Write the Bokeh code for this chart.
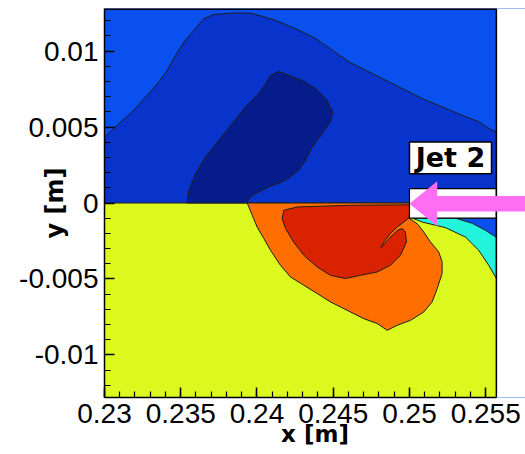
from bokeh.plotting import figure
from bokeh.models import Range1d, FixedTicker, Label
from bokeh.embed import file_html
from bokeh.resources import INLINE

# ---- domain and axes -------------------------------------------------------
x_limits = [0.23, 0.2557]        # computational domain shown
y_limits = [-0.0128, 0.0128]
x_view_end = 0.25761             # view runs a little past the domain for the inflow arrow

x_ticks = [0.23, 0.235, 0.24, 0.245, 0.25, 0.255]
x_tick_labels = ["0.23", "0.235", "0.24", "0.245", "0.25", "0.255"]
y_ticks = [-0.01, -0.005, 0.0, 0.005, 0.01]
y_tick_labels = ["-0.01", "-0.005", "0", "0.005", "0.01"]
x_minor = [round(0.230 + 0.001 * i, 3) for i in range(26)]
y_minor = [round(-0.012 + 0.001 * i, 3) for i in range(25)]

# ---- contour bands (polygon outlines in metres) ----------------------------
# upper half (y > 0): second band, below the outer contour line
band2_x = [0.23, 0.23083, 0.23192, 0.23280, 0.23356, 0.23411, 0.23466, 0.23520,
           0.23586, 0.23651, 0.23717, 0.23848, 0.23957, 0.24036, 0.24123, 0.24254,
           0.24386, 0.24495, 0.24605, 0.24736, 0.24867, 0.24976, 0.25107, 0.25216,
           0.25348, 0.25457, 0.25523, 0.2557, 0.2557, 0.23]
band2_y = [0.00434, 0.00511, 0.00610, 0.00709, 0.00796, 0.00873, 0.00972, 0.01059,
           0.01136, 0.01213, 0.01241, 0.01250, 0.01250, 0.01228, 0.01202, 0.01147,
           0.01082, 0.01005, 0.00928, 0.00862, 0.00796, 0.00741, 0.00676, 0.00632,
           0.00577, 0.00533, 0.00489, 0.00467, 0.0, 0.0]

# upper half: innermost (darkest) band
band3_x = [0.23542, 0.23553, 0.23597, 0.23662, 0.23750, 0.23837, 0.23925, 0.24012,
           0.24056, 0.24089, 0.24143, 0.24209, 0.24296, 0.24384, 0.24460, 0.24497,
           0.24482, 0.24428, 0.24362, 0.24318, 0.24274, 0.24187, 0.24077, 0.23990,
           0.23946, 0.23936]
band3_y = [0.0, 0.00084, 0.00193, 0.00303, 0.00413, 0.00522, 0.00632, 0.00720,
           0.00786, 0.00840, 0.00866, 0.00840, 0.00807, 0.00753, 0.00676, 0.00599,
           0.00533, 0.00457, 0.00368, 0.00281, 0.00215, 0.00149, 0.00105, 0.00062,
           0.00029, 0.0]

# lower half (y < 0): orange band
orange_x = [0.23936, 0.23969, 0.24001, 0.24045, 0.24089, 0.24154, 0.24220, 0.24307,
            0.24395, 0.24482, 0.24591, 0.24700, 0.24788, 0.24854, 0.24919, 0.25007,
            0.25094, 0.25149, 0.25182, 0.25214, 0.25214, 0.25192, 0.25138, 0.25094,
            0.25051, 0.25, 0.25]
orange_y = [0.0, -0.00081, -0.00158, -0.00234, -0.00311, -0.00410, -0.00487, -0.00541,
            -0.00596, -0.00651, -0.00706, -0.00761, -0.00793, -0.00838, -0.00805, -0.00772,
            -0.00717, -0.00651, -0.00563, -0.00464, -0.00388, -0.00322, -0.00257, -0.00191,
            -0.00136, -0.00103, 0.0]

# lower half: red core with the slit near the jet
red_x = [0.24176, 0.24165, 0.24187, 0.24241, 0.24307, 0.24395, 0.24482, 0.24580,
         0.24679, 0.24788, 0.24875, 0.24941, 0.24980, 0.24974, 0.24952, 0.24919,
         0.24875, 0.24814, 0.24832, 0.24875, 0.24919, 0.24963, 0.25, 0.25,
         0.24613, 0.24264]
red_y = [-0.00048, -0.00103, -0.00168, -0.00257, -0.00344, -0.00421, -0.00476, -0.00497,
         -0.00476, -0.00454, -0.00410, -0.00344, -0.00257, -0.00191, -0.00168, -0.00182,
         -0.00224, -0.00293, -0.00257, -0.00201, -0.00158, -0.00125, -0.00095, -0.00012,
         -0.00015, -0.00026]

# lower half: cyan band downstream of the jet
cyan_x = [0.25083, 0.25020, 0.2557, 0.2557, 0.25520, 0.25454, 0.25367, 0.25236]
cyan_y = [-0.00125, -0.00100, -0.00100, -0.00497, -0.00410, -0.00311, -0.00224, -0.00162]

# lower half: thin blue wedge under the jet exit
wedge_x = [0.25302, 0.2557, 0.2557, 0.25498, 0.25413]
wedge_y = [-0.00100, -0.00100, -0.00226, -0.00180, -0.00134]

# jet inlet
jet_left, jet_right = 0.25, 0.2557
jet_bottom, jet_top = -0.0010, 0.00095

# "Jet 2" tag box and inflow arrow outline
tag_box = dict(left=0.25, right=0.25538, bottom=0.00193, top=0.00401)
tag_text_xy = (0.25269, 0.00297)
arrow_x = [0.25, 0.25182, 0.25182, 0.25761, 0.25761, 0.25182, 0.25182]
arrow_y = [-0.00005, 0.00143, 0.00046, 0.00046, -0.00056, -0.00056, -0.00153]

# ---- colours ---------------------------------------------------------------
C_BAND1 = "#0a50ee"
C_BAND2 = "#0934cc"
C_BAND3 = "#061c8a"
C_YELLOW = "#dbf81f"
C_ORANGE = "#ff6e00"
C_RED = "#d82200"
C_CYAN = "#22f5dc"
C_EDGE = "#1e1e1e"
C_PINK = "#ff6ef2"

TICK_FONT = "Liberation Sans"
LABEL_FONT = "DejaVu Sans"

p = figure(width=525, height=454,
           x_range=Range1d(x_limits[0], x_view_end), y_range=Range1d(*y_limits),
           output_backend="svg", toolbar_location=None,
           min_border_left=104, min_border_right=0,
           min_border_top=8, min_border_bottom=57)

p.background_fill_color = C_BAND1
p.border_fill_color = "white"
p.grid.visible = False
p.outline_line_color = None

# lower half base level
p.patch([x_limits[0], x_limits[1], x_limits[1], x_limits[0]],
        [0.0, 0.0, y_limits[0], y_limits[0]],
        fill_color=C_YELLOW, line_color=None)

edge = dict(line_color=C_EDGE, line_width=1)
p.patch(band2_x, band2_y, fill_color=C_BAND2, **edge)
p.patch(band3_x, band3_y, fill_color=C_BAND3, **edge)
p.patch(orange_x, orange_y, fill_color=C_ORANGE, **edge)
p.patch(red_x, red_y, fill_color=C_RED, **edge)
p.patch(cyan_x, cyan_y, fill_color=C_CYAN, **edge)
p.patch(wedge_x, wedge_y, fill_color=C_BAND1, **edge)

# jet opening
p.quad(left=[jet_left], right=[jet_right], bottom=[jet_bottom], top=[jet_top],
       fill_color="white", line_color="black", line_width=1.2)

# blank strip right of the domain, then the domain's top and right border
p.quad(left=[x_limits[1]], right=[x_view_end], bottom=[y_limits[0]], top=[y_limits[1]],
       fill_color="white", line_color=None)
p.segment(x0=[x_limits[1], x_limits[0]], y0=[y_limits[0], y_limits[1]],
          x1=[x_limits[1], x_limits[1]], y1=[y_limits[1], y_limits[1]],
          line_color="black", line_width=[1.5, 3])

# "Jet 2" tag
p.quad(left=[tag_box["left"]], right=[tag_box["right"]],
       bottom=[tag_box["bottom"]], top=[tag_box["top"]],
       fill_color="white", line_color="black", line_width=1.5)
p.add_layout(Label(x=tag_text_xy[0], y=tag_text_xy[1], text="Jet 2",
                   text_font=LABEL_FONT, text_font_style="bold", text_font_size="27px",
                   text_align="center", text_baseline="middle", text_color="black"))

# inflow arrow pointing at the jet
p.patch(arrow_x, arrow_y, fill_color=C_PINK, line_color=None)

# axes
p.xaxis.ticker = FixedTicker(ticks=x_ticks, minor_ticks=x_minor)
p.yaxis.ticker = FixedTicker(ticks=y_ticks, minor_ticks=y_minor)
p.xaxis.bounds = (x_limits[0], x_limits[1])
p.xaxis.major_label_overrides = dict(zip(x_ticks, x_tick_labels))
p.yaxis.major_label_overrides = dict(zip(y_ticks, y_tick_labels))
p.xaxis.axis_label = "x [m]"
p.yaxis.axis_label = "y [m]"

for ax in (p.xaxis[0], p.yaxis[0]):
    ax.axis_line_color = "black"
    ax.axis_line_width = 1.5
    ax.major_tick_in = 10
    ax.major_tick_out = 0
    ax.minor_tick_in = 6
    ax.minor_tick_out = 0
    ax.major_tick_line_color = "black"
    ax.major_tick_line_width = 1.5
    ax.minor_tick_line_color = "black"
    ax.minor_tick_line_width = 1.2
    ax.major_label_text_font = TICK_FONT
    ax.major_label_text_font_size = "28px"
    ax.major_label_text_color = "black"
    ax.axis_label_text_font = LABEL_FONT
    ax.axis_label_text_font_style = "bold"
    ax.axis_label_text_color = "black"

p.xaxis.axis_label_text_font_size = "23px"
p.yaxis.axis_label_text_font_size = "24px"

p.xaxis.major_label_standoff = 6
p.xaxis.axis_label_standoff = -5
p.yaxis.major_label_standoff = 6
p.yaxis.axis_label_standoff = -53

open("out.html", "w").write(file_html(p, INLINE))
